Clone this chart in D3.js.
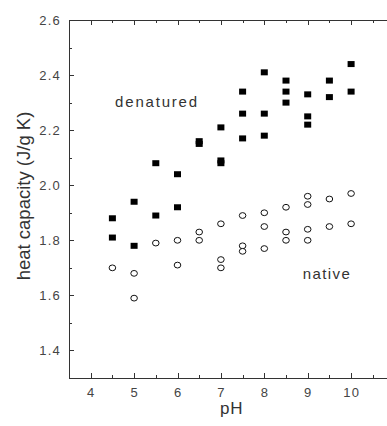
<!DOCTYPE html>
<html><head><meta charset="utf-8">
<script src="https://cdn.jsdelivr.net/npm/d3@7"></script>
<style>html,body{margin:0;padding:0;background:#fff;overflow:hidden}</style>
</head><body>
<svg id="c" width="387" height="426"></svg>
<script>
const denaturedPH = [4.5,4.5,5,5,5.5,5.5,6,6,6.5,6.5,7,7,7,7.5,7.5,7.5,8,8,8,8.5,8.5,8.5,9,9,9,9.5,9.5,10,10];
const denaturedCp = [1.88,1.81,1.94,1.78,2.08,1.89,2.04,1.92,2.15,2.16,2.21,2.08,2.09,2.34,2.26,2.17,2.41,2.26,2.18,2.38,2.34,2.30,2.33,2.25,2.22,2.38,2.32,2.44,2.34];
const nativePH = [4.5,5,5,5.5,6,6,6.5,6.5,7,7,7,7.5,7.5,7.5,8,8,8,8.5,8.5,8.5,9,9,9,9,9.5,9.5,10,10];
const nativeCp = [1.70,1.68,1.59,1.79,1.80,1.71,1.83,1.80,1.86,1.73,1.70,1.89,1.78,1.76,1.90,1.85,1.77,1.92,1.83,1.80,1.96,1.93,1.84,1.80,1.95,1.85,1.97,1.86];
const xTicks = [4,5,6,7,8,9,10];
const yTicks = [1.4,1.6,1.8,2.0,2.2,2.4,2.6];

const svg = d3.select("#c");
const x = d3.scaleLinear().domain([3.5,11]).range([69,394.5]);
const y = d3.scaleLinear().domain([1.3,2.6]).range([378,20]);
const ink = "#333";
const L = x.range()[0], R = 400, T = y.range()[1], B = y.range()[0];
const font = "Liberation Sans, Arial, sans-serif";

// axis lines (left, bottom, top; right side falls outside the picture)
const g = svg.append("g").attr("stroke", ink).attr("stroke-width", 1).attr("fill","none");
g.append("line").attr("x1",L+0.5).attr("x2",L+0.5).attr("y1",T).attr("y2",B+1);
g.append("line").attr("x1",L).attr("x2",R).attr("y1",B+0.5).attr("y2",B+0.5);
g.append("line").attr("x1",L).attr("x2",R).attr("y1",T+0.5).attr("y2",T+0.5);

// x ticks (major + minor), bottom & top, pointing inward
const xMinor = d3.range(4, 11.01, 0.5);
xMinor.forEach(v => {
  const major = Math.abs(v - Math.round(v)) < 1e-6;
  const len = major ? 5 : 3;
  const xx = Math.round(x(v)) + 0.5;
  g.append("line").attr("x1",xx).attr("x2",xx).attr("y1",B).attr("y2",B-len);
  g.append("line").attr("x1",xx).attr("x2",xx).attr("y1",T).attr("y2",T+len);
});
// y ticks
const yMinor = d3.range(1.4, 2.601, 0.1);
yMinor.forEach(v => {
  const major = Math.abs(v*5 - Math.round(v*5)) < 1e-6;
  const len = major ? 5 : 3;
  const yy = Math.round(y(v)) + 0.5;
  g.append("line").attr("x1",L).attr("x2",L+len).attr("y1",yy).attr("y2",yy);
});

// tick labels
const lab = svg.append("g").attr("font-family",font).attr("font-size",13).attr("fill","#444").attr("letter-spacing",1.2);
xTicks.forEach(v => lab.append("text").attr("x",x(v)+0.6).attr("y",B+19).attr("text-anchor","middle").text(v));
yTicks.forEach(v => lab.append("text").attr("x",L-8).attr("y",y(v)+5).attr("text-anchor","end").text(d3.format(".1f")(v)));

// axis titles
svg.append("text").attr("x",x(7.25)).attr("y",414).attr("text-anchor","middle").attr("letter-spacing",1)
  .attr("font-family",font).attr("font-size",17).attr("fill",ink).text("pH");
svg.append("text").attr("transform","translate(29.5,196) rotate(-90)").attr("text-anchor","middle")
  .attr("font-family",font).attr("font-size",18.5).attr("fill",ink).text("heat capacity (J/g K)");

// data
const sw = 7, sh = 6;
svg.append("g").selectAll("rect").data(d3.range(denaturedPH.length)).join("rect")
  .attr("x", i => x(denaturedPH[i]) - sw/2).attr("y", i => y(denaturedCp[i]) - sh/2)
  .attr("width", sw).attr("height", sh).attr("fill","#000");
svg.append("g").selectAll("ellipse").data(d3.range(nativePH.length)).join("ellipse")
  .attr("cx", i => x(nativePH[i])).attr("cy", i => y(nativeCp[i]))
  .attr("rx", 3.3).attr("ry", 2.9).attr("fill","#fff").attr("stroke","#111").attr("stroke-width",1);

// annotations
const ann = svg.append("g").attr("font-family",font).attr("font-size",15).attr("fill",ink);
ann.append("text").attr("x",157).attr("y",107).attr("text-anchor","middle").attr("letter-spacing",1.8).text("denatured");
ann.append("text").attr("x",327).attr("y",279).attr("text-anchor","middle").attr("letter-spacing",1.4).text("native");
</script>
</body></html>
